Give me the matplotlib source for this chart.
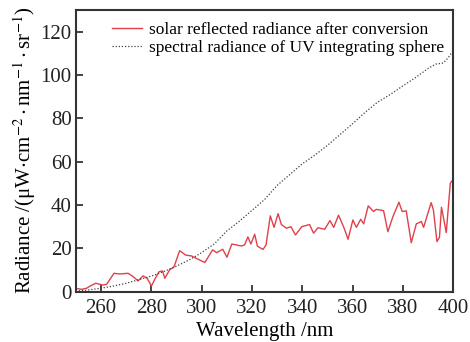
import numpy as np
import matplotlib.pyplot as plt

plt.rcParams['font.family'] = ['Liberation Serif', 'DejaVu Serif']
plt.rcParams['mathtext.fontset'] = 'stix'

# solar reflected radiance after conversion
solar_wl = [250.0, 252.3, 254.3, 256.0, 258.0, 260.7, 262.3, 265.2, 267.5, 270.8,
            272.8, 274.8, 276.8, 278.4, 280.1, 281.4, 283.1, 284.5, 285.4, 287.4,
            289.0, 291.3, 293.7, 296.0, 299.3, 301.3, 304.4, 306.0, 308.4, 310.1,
            312.0, 315.8, 317.1, 318.4, 319.6, 321.1, 322.2, 324.4, 325.6, 327.3,
            328.8, 330.4, 331.7, 333.7, 335.5, 337.3, 339.8, 342.9, 344.5, 346.2,
            348.9, 351.0, 352.5, 354.4, 356.4, 358.2, 360.1, 361.5, 363.2, 364.4,
            366.2, 368.3, 369.4, 372.3, 374.0, 376.0, 378.4, 379.7, 381.3, 383.3,
            385.3, 387.3, 388.2, 391.2, 392.1, 393.5, 394.5, 395.3, 397.2, 398.8,
            400.0]
solar_rad = [1.6, 1.1, 1.6, 2.8, 3.9, 3.1, 3.4, 8.5, 8.2, 8.5,
             7.0, 5.0, 7.3, 6.2, 2.6, 5.7, 9.2, 9.6, 6.2, 10.3,
             11.3, 18.9, 16.9, 16.5, 14.6, 13.5, 19.3, 18.0, 19.6, 15.9,
             22.0, 21.1, 21.6, 25.3, 22.0, 26.5, 21.0, 19.5, 21.5, 35.0,
             29.7, 36.0, 31.0, 29.3, 30.0, 26.2, 30.0, 31.0, 27.0, 29.5,
             28.8, 32.8, 29.7, 35.3, 30.0, 24.2, 33.1, 29.7, 33.4, 31.3,
             39.6, 37.0, 38.0, 37.4, 27.7, 34.6, 41.3, 37.0, 37.3, 22.6,
             31.3, 32.4, 29.7, 41.1, 37.7, 23.1, 25.1, 39.0, 27.3, 50.0,
             51.9]

# spectral radiance of the UV integrating sphere
sphere_wl = [250, 255, 260, 265, 270, 275, 280, 285, 290, 295, 300, 305, 310,
             315, 320, 325, 330, 335, 340, 345, 350, 355, 360, 365, 370, 375,
             380, 385, 390, 393, 396, 398, 400]
sphere_rad = [0.3, 0.8, 1.6, 2.6, 3.9, 5.5, 7.2, 9.3, 11.8, 14.6, 18.0, 22.0,
              28.0, 32.5, 37.5, 42.5, 49.0, 54.0, 59.0, 63.0, 67.5, 72.5, 77.5,
              82.8, 87.5, 91.0, 95.0, 98.8, 103.0, 105.0, 105.5, 108.0, 111.3]

fig = plt.figure(figsize=(4.7, 3.42), dpi=100)
ax = fig.add_axes([0.161, 0.147, 0.8035, 0.824])

ax.plot(solar_wl, solar_rad, color='#e0404c', lw=1.0,
        label='solar reflected radiance after conversion')
ax.plot(sphere_wl, sphere_rad, color='#404040', lw=0.9, linestyle=(0, (1, 1.5)),
        label='spectral radiance of UV integrating sphere')

ax.set_xlim(250, 400)
ax.set_ylim(0, 130)
ax.set_xticks(np.arange(260, 401, 20))
ax.set_yticks(np.arange(0, 121, 20))
ax.tick_params(direction='in', length=5, width=1.2, labelsize=15, colors='#222222')
ax.tick_params(axis='x', pad=5)
ax.tick_params(axis='y', pad=3)
for s in ax.spines.values():
    s.set_linewidth(1.5)
    s.set_color('#333333')

ax.set_xlabel('Wavelength /nm', fontsize=15, labelpad=3)
ax.set_ylabel(r'Radiance /(μW$\cdot$cm$^{-2}\cdot$nm$^{-1}\cdot$sr$^{-1}$)',
              fontsize=15, labelpad=2)

ax.legend(loc='upper left', bbox_to_anchor=(0.068, 0.995), frameon=False,
          fontsize=12.5, handlelength=1.75, handletextpad=0.4, labelspacing=0.1,
          borderaxespad=0.2)

fig.savefig('out.png', dpi=100)
